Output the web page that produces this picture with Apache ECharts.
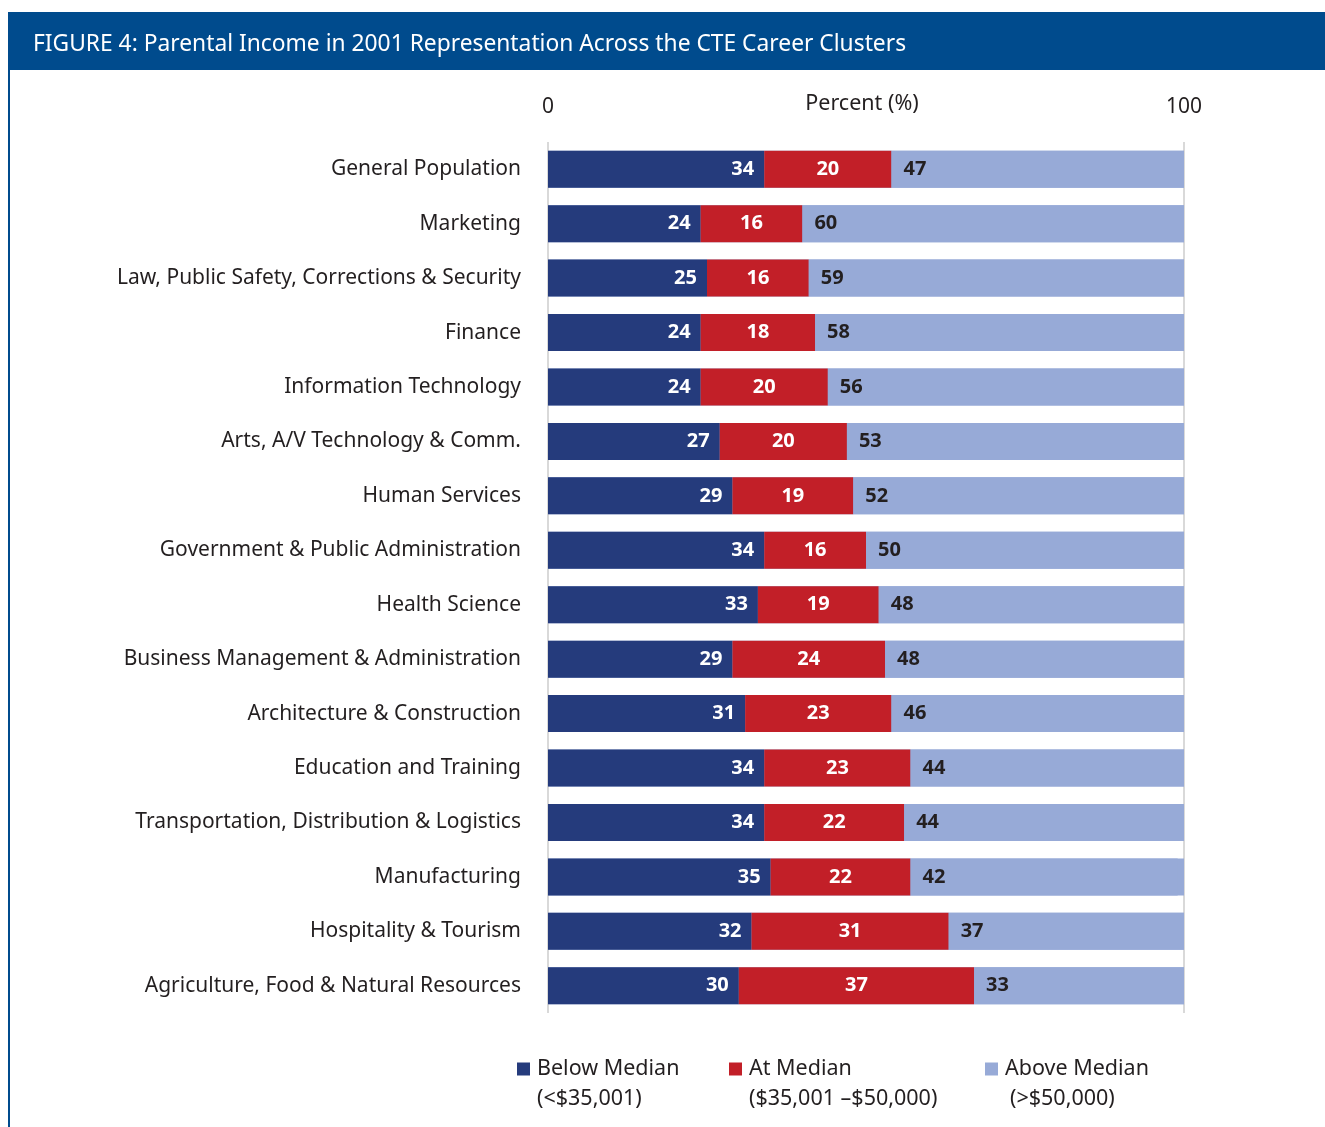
<!DOCTYPE html>
<html>
<head>
<meta charset="utf-8">
<script src="https://cdn.jsdelivr.net/npm/echarts@6/dist/echarts.min.js"></script>
<style>
  html, body { margin: 0; padding: 0; background: #ffffff; }
  #chart { width: 1325px; height: 1127px; }
</style>
</head>
<body>
<div id="chart"></div>
<script>
// Career clusters, top to bottom
const clusters = [
  'General Population',
  'Marketing',
  'Law, Public Safety, Corrections & Security',
  'Finance',
  'Information Technology',
  'Arts, A/V Technology & Comm.',
  'Human Services',
  'Government & Public Administration',
  'Health Science',
  'Business Management & Administration',
  'Architecture & Construction',
  'Education and Training',
  'Transportation, Distribution & Logistics',
  'Manufacturing',
  'Hospitality & Tourism',
  'Agriculture, Food & Natural Resources'
];

// Percent of students by parental income bracket
const belowMedian = [34, 24, 25, 24, 24, 27, 29, 34, 33, 29, 31, 34, 34, 35, 32, 30];
const atMedian    = [20, 16, 16, 18, 20, 20, 19, 16, 19, 24, 23, 23, 22, 22, 31, 37];
const aboveMedian = [47, 60, 59, 58, 56, 53, 52, 50, 48, 48, 46, 44, 44, 42, 37, 33];

const seriesNames = ['Below Median', 'At Median', 'Above Median'];
const seriesRanges = ['(<$35,001)', '($35,001 \u2013$50,000)', '(>$50,000)'];
const axisTicks = [0, 100];

const C_DARK = '#253b7c';
const C_RED = '#c21f28';
const C_LIGHT = '#97aad7';
const C_TEXT = '#231f20';
const C_FRAME = '#004b8d';
const FONT = '"Noto Sans", "Open Sans", sans-serif';

const chart = echarts.init(document.getElementById('chart'), null, { renderer: 'canvas' });

const labelBase = {
  show: true,
  fontFamily: FONT,
  fontSize: 20,
  fontWeight: 'bold'
};

function legendAt(name, left) {
  return {
    data: [name],
    left: left,
    top: 1058,
    padding: 0,
    icon: 'rect',
    itemWidth: 13,
    itemHeight: 13,
    selectedMode: false,
    textStyle: { fontFamily: FONT, fontSize: 21.5, color: C_TEXT, padding: [0, 0, 0, 2] }
  };
}

chart.setOption({
  backgroundColor: '#ffffff',
  animation: false,
  title: {
    text: 'FIGURE 4: Parental Income in 2001 Representation Across the CTE Career Clusters',
    left: 28,
    top: 28,
    textStyle: { color: '#ffffff', fontFamily: FONT, fontSize: 22.8, fontWeight: 'normal' }
  },
  graphic: [
    { type: 'rect', z: -10, shape: { x: 8, y: 12, width: 1317, height: 58 }, style: { fill: C_FRAME } },
    { type: 'rect', z: -10, shape: { x: 8, y: 70, width: 2, height: 1057 }, style: { fill: C_FRAME } },
    { type: 'text', left: 537, top: 1088, style: { text: seriesRanges[0], font: '21.5px ' + FONT, fill: C_TEXT } },
    { type: 'text', left: 749, top: 1088, style: { text: seriesRanges[1], font: '21.5px ' + FONT, fill: C_TEXT } },
    { type: 'text', left: 1010, top: 1088, style: { text: seriesRanges[2], font: '21.5px ' + FONT, fill: C_TEXT } }
  ],
  legend: [
    legendAt(seriesNames[0], 517),
    legendAt(seriesNames[1], 729),
    legendAt(seriesNames[2], 985)
  ],
  grid: { left: 548, right: 141, top: 142, bottom: 114, containLabel: false },
  xAxis: {
    type: 'value',
    position: 'top',
    min: axisTicks[0],
    max: axisTicks[1],
    interval: 100,
    name: 'Percent (%)',
    nameLocation: 'middle',
    nameGap: 27,
    nameMoveOverlap: false,
    nameTextStyle: { fontFamily: FONT, fontSize: 21.5, color: C_TEXT, padding: [0, 8, 0, 0] },
    axisLine: { show: false },
    axisTick: { show: false },
    axisLabel: { margin: 24, fontFamily: FONT, fontSize: 21, color: C_TEXT },
    splitLine: { show: true, lineStyle: { color: '#d9d9d9', width: 2 } }
  },
  yAxis: {
    type: 'category',
    inverse: true,
    data: clusters,
    axisLine: { show: false },
    axisTick: { show: false },
    axisLabel: { margin: 27, fontFamily: FONT, fontSize: 21, color: C_TEXT }
  },
  series: [
    {
      name: seriesNames[0],
      type: 'bar',
      stack: 'income',
      barWidth: 37,
      data: belowMedian,
      itemStyle: { color: C_DARK },
      showBackground: true,
      backgroundStyle: { color: C_LIGHT },
      label: Object.assign({}, labelBase, { position: 'insideRight', distance: 10, color: '#ffffff' })
    },
    {
      name: seriesNames[1],
      type: 'bar',
      stack: 'income',
      barWidth: 37,
      data: atMedian,
      itemStyle: { color: C_RED },
      label: Object.assign({}, labelBase, { position: 'inside', color: '#ffffff' })
    },
    {
      name: seriesNames[2],
      type: 'bar',
      stack: 'income',
      barWidth: 37,
      data: aboveMedian,
      itemStyle: { color: C_LIGHT },
      label: Object.assign({}, labelBase, { position: 'insideLeft', distance: 12, color: C_TEXT })
    }
  ]
});
</script>
</body>
</html>
